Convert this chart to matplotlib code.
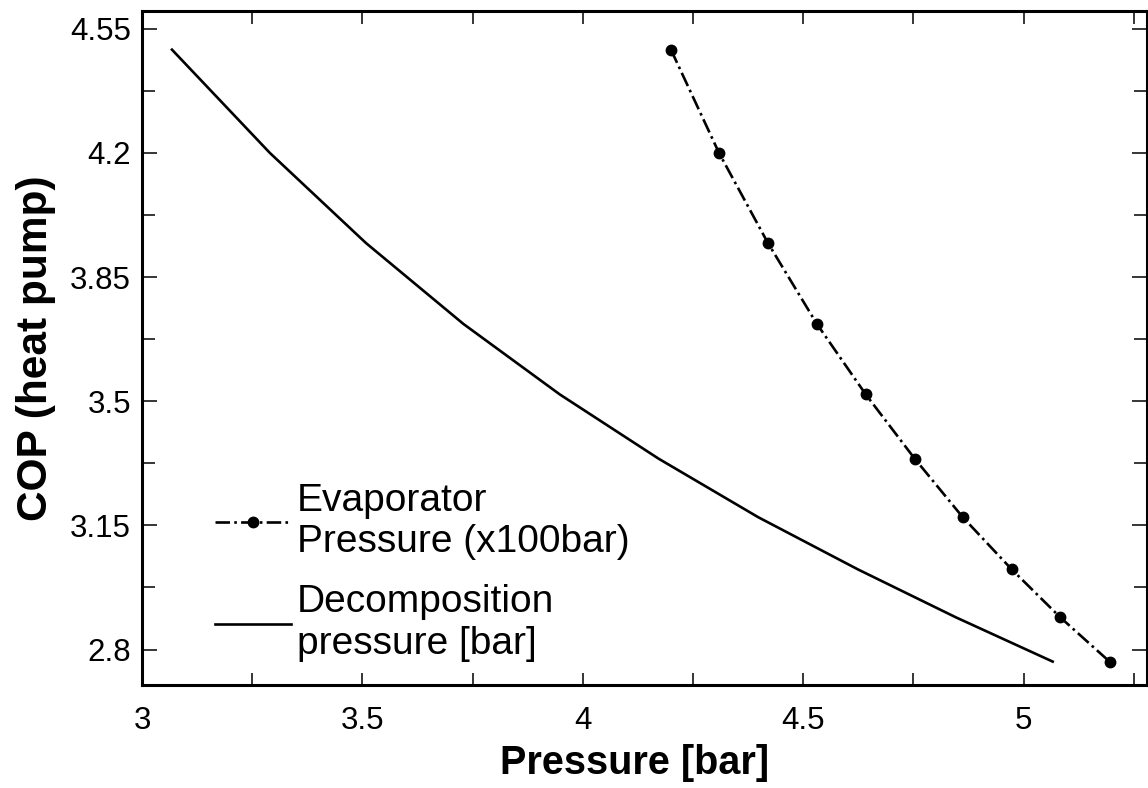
import matplotlib
matplotlib.use("Agg")
import matplotlib.pyplot as plt
from matplotlib.ticker import MultipleLocator, FixedLocator

# COP values shared by both curves
cop = [4.491, 4.200, 3.946, 3.718, 3.519, 3.338, 3.173, 3.026, 2.891, 2.766]
# evaporator pressure (x100 bar)
evap_p = [4.200, 4.309, 4.420, 4.531, 4.642, 4.753, 4.862, 4.973, 5.083, 5.195]
# decomposition pressure (bar)
decomp_p = [3.068, 3.290, 3.508, 3.729, 3.948, 4.172, 4.398, 4.624, 4.846, 5.066]

xticks = [3, 3.5, 4, 4.5, 5]
yticks = [2.8, 3.15, 3.5, 3.85, 4.2, 4.55]

plt.rcParams['font.family'] = ['Liberation Sans', 'DejaVu Sans']

fig = plt.figure(figsize=(11.48, 7.88), dpi=100)
ax = fig.add_axes([142/1148, 1 - 685/788, 1005/1148, 674/788])

ax.plot(evap_p, cop, color='black', lw=1.9, linestyle=(0, (5.5, 1.6, 1, 1.6)),
        marker='o', markersize=7.5, label='Evaporator\nPressure (x100bar)')
ax.plot(decomp_p, cop, color='black', lw=1.9, label='Decomposition\npressure [bar]')

ax.set_xlim(3, 5.28)
ax.set_ylim(2.7, 4.6)
ax.xaxis.set_major_locator(FixedLocator(xticks))
ax.xaxis.set_minor_locator(MultipleLocator(0.25))
ax.yaxis.set_major_locator(FixedLocator(yticks))
ax.yaxis.set_minor_locator(MultipleLocator(0.175))
ax.set_xticklabels(['3', '3.5', '4', '4.5', '5'])
ax.set_yticklabels(['2.8', '3.15', '3.5', '3.85', '4.2', '4.55'])

ax.tick_params(which='both', direction='in', top=True, right=True, width=1.1)
ax.tick_params(axis='x', which='both', length=9, pad=15, labelsize=22.5)
ax.tick_params(axis='y', which='major', length=11, pad=8, labelsize=22.5)
ax.tick_params(axis='y', which='minor', length=9.5)
for s in ax.spines.values():
    s.set_linewidth(2.2)

ax.set_xlabel('Pressure [bar]', fontsize=28.5, fontweight='bold', labelpad=9)
ax.xaxis.set_label_coords(0.49, -0.088)
ax.set_ylabel('COP (heat pump)', fontsize=30.5, fontweight='bold', labelpad=10)

ax.legend(loc='lower left', bbox_to_anchor=(73/1005, 23/674), frameon=False,
          fontsize=28, handlelength=1.95, handletextpad=0.15, borderpad=0,
          borderaxespad=0, labelspacing=0.62)

fig.savefig('out.png', dpi=100)
